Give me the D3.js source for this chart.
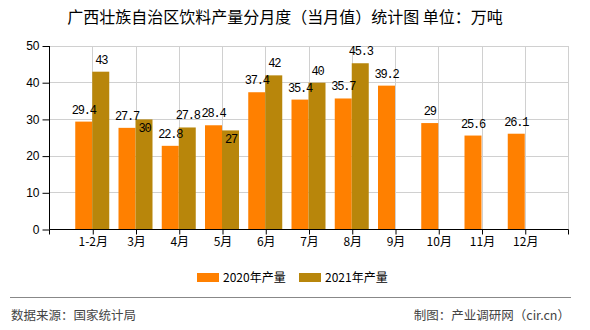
<!DOCTYPE html>
<html><head><meta charset="utf-8">
<script src="https://cdn.jsdelivr.net/npm/d3@7/dist/d3.min.js"></script>
<style>
html,body{margin:0;padding:0;background:#fff;}
svg{display:block;}
</style></head>
<body>
<svg id="chart" width="590" height="330"></svg>
<script>
const categories = ["1-2月","3月","4月","5月","6月","7月","8月","9月","10月","11月","12月"];
const values2020 = [29.4, 27.7, 22.8, 28.4, 37.4, 35.4, 35.7, 39.2, 29, 25.6, 26.1];
const values2021 = [43, 30, 27.8, 27, 42, 40, 45.3, null, null, null, null];
const seriesNames = ["2020年产量", "2021年产量"];
const yTicks = [0, 10, 20, 30, 40, 50];
const titleText = "广西壮族自治区饮料产量分月度（当月值）统计图 单位：万吨";
const sourceText = "数据来源：国家统计局";
const creditText = "制图：产业调研网（cir.cn）";

const colors = ["#FF8000", "#B8860B"];
const insideLabels2021 = ["3月", "5月"];

(function () {
const svg = d3.select("#chart");
const pLeft = 49, pRight = 568, pTop = 46, pBottom = 229.5;
const cjk = "'Noto Sans CJK SC','Noto Sans',sans-serif";
const mono = "'Liberation Mono','DejaVu Sans Mono',monospace";

const x = d3.scalePoint().domain(categories).range([pLeft, pRight]).padding(1);
const y = d3.scaleLinear().domain([0, 50]).range([pBottom, pTop]);
const barW = 17;

// Title
svg.append("text").attr("x", 285).attr("y", 23).attr("text-anchor", "middle")
  .attr("font-family", cjk).attr("font-size", 16).attr("fill", "#000").text(titleText);

// Gridlines
const grid = svg.append("g");
yTicks.filter(d => d > 0).forEach(t => {
  grid.append("line").attr("x1", pLeft).attr("x2", pRight).attr("y1", y(t)).attr("y2", y(t))
    .attr("stroke", "#d0d0d0").attr("stroke-width", 1).attr("shape-rendering", "crispEdges");
});
categories.forEach(c => {
  grid.append("line").attr("x1", Math.round(x(c)) + 0.5).attr("x2", Math.round(x(c)) + 0.5).attr("y1", pTop).attr("y2", pBottom)
    .attr("stroke", "#d0d0d0").attr("stroke-width", 1);
});
grid.append("line").attr("x1", pRight + 0.5).attr("x2", pRight + 0.5).attr("y1", pTop).attr("y2", pBottom)
  .attr("stroke", "#d0d0d0");

// Bars
const bars = svg.append("g");
categories.forEach((c, i) => {
  const cx = x(c);
  const v0 = values2020[i];
  if (v0 != null) {
    bars.append("rect").attr("x", cx - barW).attr("width", barW)
      .attr("y", y(v0)).attr("height", y(0) - y(v0)).attr("fill", colors[0]);
  }
  const v1 = values2021[i];
  if (v1 != null) {
    bars.append("rect").attr("x", cx).attr("width", barW)
      .attr("y", y(v1)).attr("height", y(0) - y(v1)).attr("fill", colors[1]);
  }
});

// Value labels
const labels = svg.append("g").attr("font-family", mono).attr("font-size", 12)
  .attr("letter-spacing", -1.2).attr("fill", "#000").attr("text-anchor", "middle");
categories.forEach((c, i) => {
  const cx = x(c);
  const v0 = values2020[i];
  if (v0 != null) {
    labels.append("text").attr("x", cx - barW / 2).attr("y", y(v0) - 8).text(String(v0));
  }
  const v1 = values2021[i];
  if (v1 != null) {
    const inside = insideLabels2021.includes(c);
    labels.append("text").attr("x", cx + barW / 2 + 0.5)
      .attr("y", inside ? y(v1) + 13 : y(v1) - 8).text(String(v1));
  }
});

// Y axis
const yAxis = d3.axisLeft(y).tickValues(yTicks).tickSize(7).tickPadding(3).tickFormat(d3.format("d"));
const gy = svg.append("g").attr("transform", `translate(${pLeft + 0.5},0)`).call(yAxis);
gy.select(".domain").attr("stroke", "#000").attr("d", `M0,${pTop}V${pBottom}`);
gy.selectAll(".tick line").attr("stroke", "#000");
gy.selectAll("text").attr("font-family", "'Liberation Sans',Arial,sans-serif").attr("font-size", 12).attr("fill", "#000");

// X axis
const xAxis = d3.axisBottom(x).tickSize(5).tickPadding(3);
const gx = svg.append("g").attr("transform", `translate(0.5,${pBottom})`).call(xAxis);
gx.select(".domain").attr("stroke", "#000").attr("d", `M${pLeft},0H${pRight}`);
gx.selectAll(".tick line").attr("stroke", "#000");
gx.selectAll("text").attr("font-family", cjk).attr("font-size", 12).attr("fill", "#000");
[pLeft, pRight].forEach(px => {
  gx.append("line").attr("x1", px).attr("x2", px).attr("y1", 0).attr("y2", 5).attr("stroke", "#000");
});

// Legend
const legend = svg.append("g").attr("font-family", cjk).attr("font-size", 12);
const legendX = [197, 299];
seriesNames.forEach((n, i) => {
  legend.append("rect").attr("x", legendX[i]).attr("y", 273).attr("width", 22).attr("height", 9).attr("fill", colors[i]);
  legend.append("text").attr("x", legendX[i] + 26).attr("y", 282).attr("fill", "#000").text(n);
});

// Footer
svg.append("line").attr("x1", 10).attr("x2", 571).attr("y1", 297.5).attr("y2", 297.5)
  .attr("stroke", "#888").attr("stroke-width", 1);
svg.append("text").attr("x", 11).attr("y", 320).attr("font-family", cjk).attr("font-size", 12.5)
  .attr("fill", "#444").text(sourceText);
svg.append("text").attr("x", 570).attr("y", 320).attr("text-anchor", "end").attr("font-family", cjk)
  .attr("font-size", 12.5).attr("fill", "#444").text(creditText);
})();
</script>
</body></html>
